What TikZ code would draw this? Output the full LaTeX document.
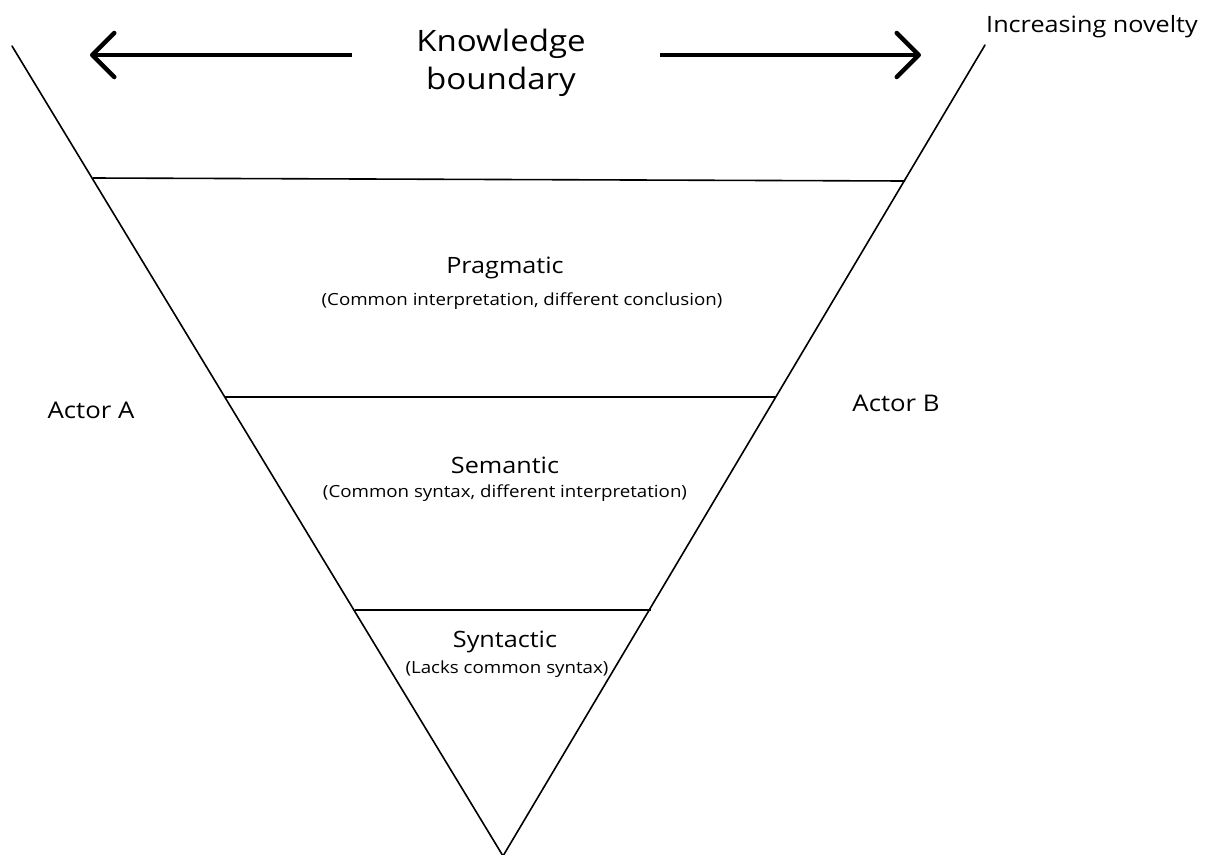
\documentclass[tikz,border=0pt]{standalone}
\usepackage{fontspec}
\setmainfont[FakeStretch=1.12]{Open Sans}
\usetikzlibrary{arrows.meta}
\begin{document}
\begin{tikzpicture}[x=1pt,y=-1pt,
  side/.style={line width=1.6pt, line cap=round},
  level/.style={line width=1.6pt},
  bigarrow/.style={line width=4.5pt, -{Straight Barb[length=22pt,width=44pt,line cap=round,line join=round]}},
  title/.style={font=\fontsize{29.5}{38}\selectfont, align=center},
  layer/.style={font=\fontsize{22.5}{26}\selectfont},
  note/.style={font=\fontsize{16.7}{20}\selectfont},
  actor/.style={font=\fontsize{23}{27}\selectfont},
]
\useasboundingbox (0,0) rectangle (1207,854);

% funnel sides meeting at the apex
\coordinate (apex) at (503,856);
\coordinate (topL) at (12,46);
\coordinate (topR) at (985,45);
\draw[side] (topL) -- (apex) -- (topR);

% layer boundaries
\coordinate (pL) at (93,178);
\coordinate (pR) at (905,181);
\coordinate (sL) at (225,397);
\coordinate (sR) at (776,397);
\coordinate (yL) at (355,610);
\coordinate (yR) at (651,610);
\draw[level] (pL) -- (pR);
\draw[level] (sL) -- (sR);
\draw[level] (yL) -- (yR);

% knowledge boundary heading with outward arrows
\node[title] (kb) at (501,63) {Knowledge\\boundary};
\coordinate (la) at (352,55);
\coordinate (lt) at (90,55);
\coordinate (ra) at (660,55);
\coordinate (rt) at (921,55);
\draw[bigarrow] (la) -- (lt);
\draw[bigarrow] (ra) -- (rt);

\node[actor,font=\fontsize{22.5}{27}\selectfont] (nov) at (1092,27) {Increasing novelty};

% layer labels
\node[layer] (prag) at (505,268) {Pragmatic};
\node[note] (pragn) at (522,301) {(Common interpretation, different conclusion)};
\node[layer] (sem) at (505,465) {Semantic};
\node[note] (semn) at (505,493) {(Common syntax, different interpretation)};
\node[layer] (syn) at (505,642) {Syntactic};
\node[note] (synn) at (507,669) {(Lacks common syntax)};

% the two actors
\node[actor] (actA) at (91,410) {Actor A};
\node[actor] (actB) at (896,403) {Actor B};
\end{tikzpicture}
\end{document}
